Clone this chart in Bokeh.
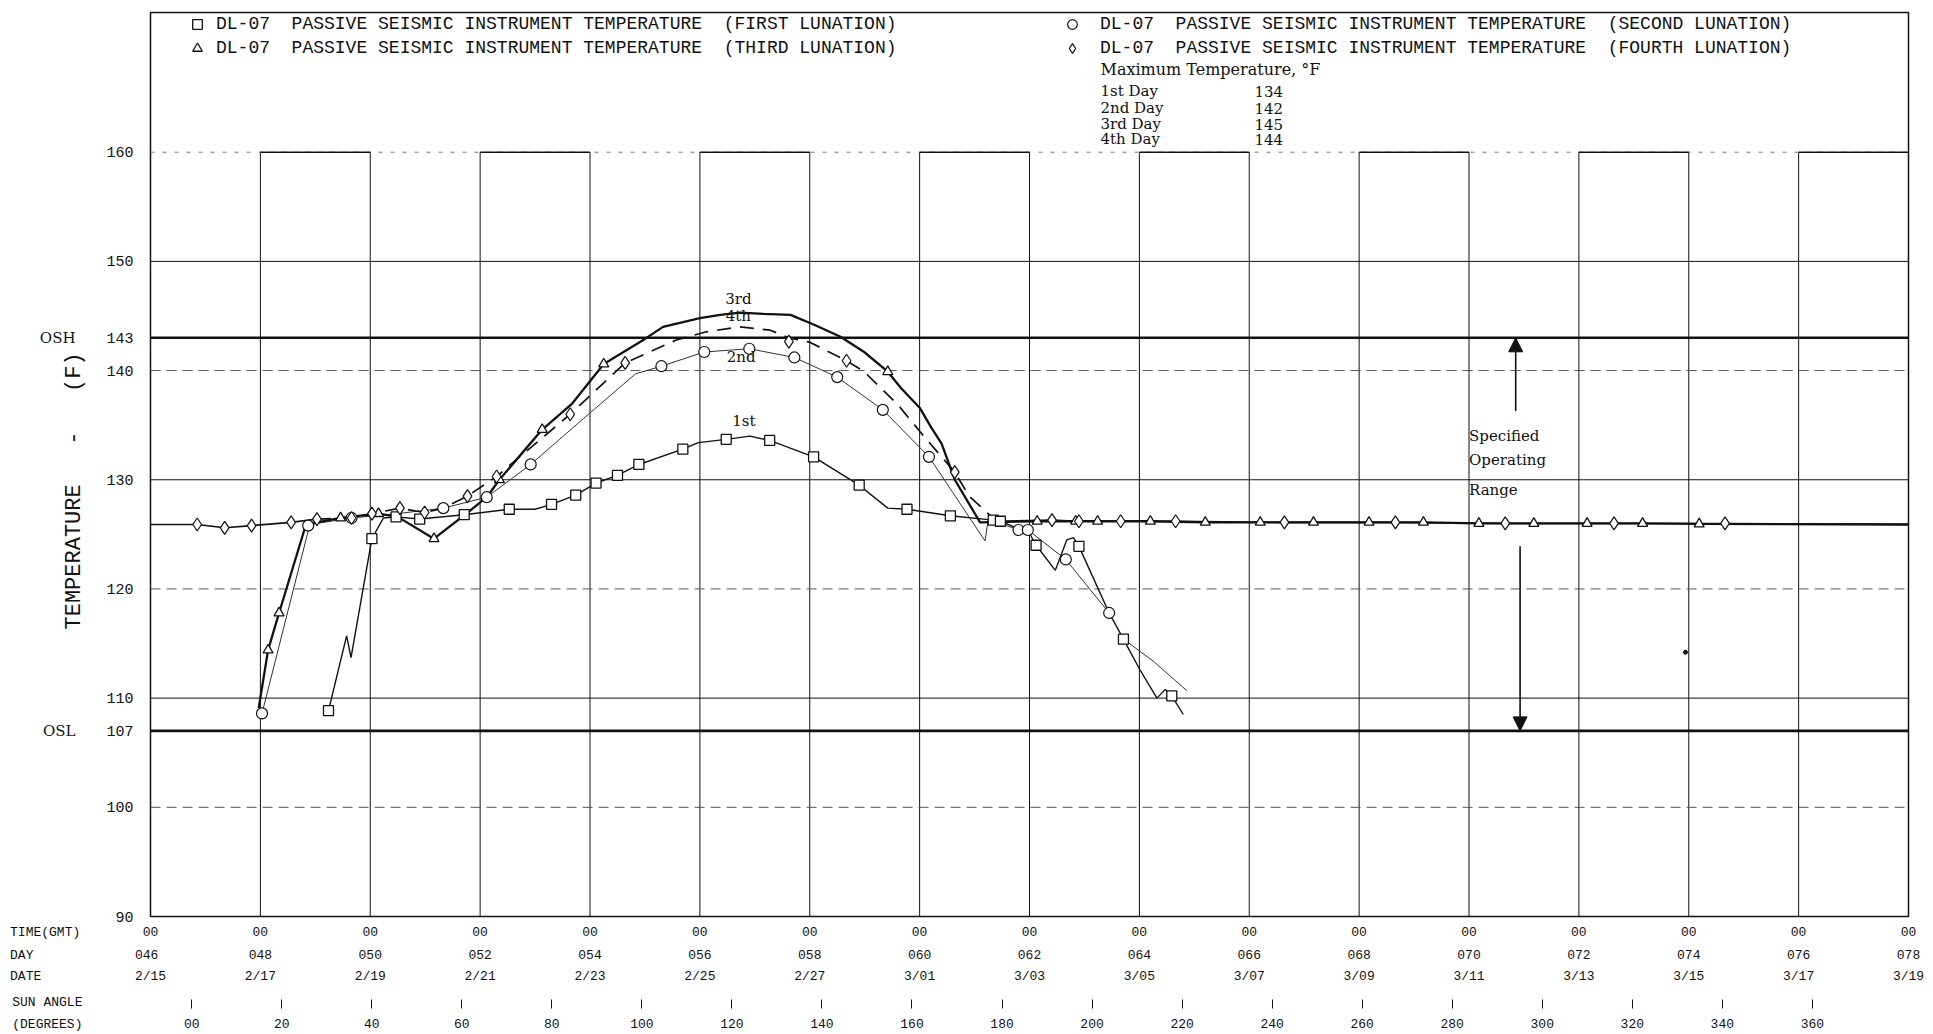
import math
from bokeh.plotting import figure
from bokeh.models import (Range1d, LinearAxis, FixedTicker, Label, Arrow, NormalHead,
                          Legend, LegendItem)
from bokeh.embed import file_html
from bokeh.resources import INLINE

# ---------------- data ----------------
day_numbers = [46, 48, 50, 52, 54, 56, 58, 60, 62, 64, 66, 68, 70, 72, 74, 76, 78]
time_labels = ["00"] * 17
day_labels = ["046", "048", "050", "052", "054", "056", "058", "060", "062",
              "064", "066", "068", "070", "072", "074", "076", "078"]
date_labels = ["2/15", "2/17", "2/19", "2/21", "2/23", "2/25", "2/27", "3/01", "3/03",
               "3/05", "3/07", "3/09", "3/11", "3/13", "3/15", "3/17", "3/19"]
sun_angles = [0, 20, 40, 60, 80, 100, 120, 140, 160, 180, 200, 220, 240, 260, 280,
              300, 320, 340, 360]
sun_angle_labels = ["00", "20", "40", "60", "80", "100", "120", "140", "160", "180",
                    "200", "220", "240", "260", "280", "300", "320", "340", "360"]
row_headers = ["TIME(GMT)", "DAY", "DATE", "SUN ANGLE", "(DEGREES)"]
sun_zero_day = 46.75     # day at which sun angle = 0
sun_full_day = 76.25     # day at which sun angle = 360

y_ticks = [90, 100, 107, 110, 120, 130, 140, 143, 150, 160]
limit_temps = [107, 143]
limit_names = ["OSL", "OSH"]
temp_grid_solid = [110, 130, 150]
temp_grid_dashed = [100, 120, 140]
temp_top = 160
osh_temp = 143
osl_temp = 107
y_title = "TEMPERATURE\u00a0\u00a0\u00a0-\u00a0\u00a0\u00a0(F)"

# First lunation (squares)
first_x = [49.24, 49.57, 49.65, 50.03, 50.24, 50.47, 50.90, 51.71, 52.53, 53.00, 53.30,
           53.74, 54.11, 54.50, 54.89, 55.69, 55.97, 56.48, 56.91, 57.27, 58.07, 58.90,
           59.42, 59.77, 60.56, 61.34, 61.47, 62.00, 62.12, 62.47, 62.68, 62.80, 62.90,
           63.45, 63.71, 64.01, 64.32, 64.47, 64.59, 64.80]
first_y = [108.85, 115.7, 113.7, 124.6, 126.5, 126.6, 126.4, 126.8, 127.3, 127.3, 127.75,
           128.6, 129.7, 130.4, 131.4, 132.8, 133.4, 133.7, 134.0, 133.6, 132.1, 129.5,
           127.4, 127.3, 126.7, 126.3, 126.2, 125.1, 124.0, 121.7, 124.5, 124.7, 123.9,
           117.8, 115.4, 112.6, 110.0, 110.8, 110.2, 108.5]
first_mx = [49.24, 50.03, 50.47, 50.90, 51.71, 52.53, 53.30, 53.74, 54.11, 54.50, 54.89,
            55.69, 56.48, 57.27, 58.07, 58.90, 59.77, 60.56, 61.34, 61.47, 62.12, 62.90,
            63.71, 64.59]
first_my = [108.85, 124.6, 126.6, 126.4, 126.8, 127.3, 127.75, 128.6, 129.7, 130.4, 131.4,
            132.8, 133.7, 133.6, 132.1, 129.5, 127.3, 126.7, 126.3, 126.2, 124.0, 123.9,
            115.4, 110.2]

# Second lunation (circles)
second_x = [48.03, 48.90, 49.66, 50.50, 51.33, 52.12, 52.92, 53.88, 54.83, 55.30, 56.08,
            56.90, 57.72, 58.50, 59.33, 60.17, 61.19, 61.25, 61.80, 61.97, 62.66, 63.45,
            63.71, 64.25, 64.86]
second_y = [108.6, 125.9, 126.5, 126.9, 127.4, 128.4, 131.4, 135.6, 139.7, 140.4, 141.7,
            142.0, 141.2, 139.4, 136.4, 132.1, 124.4, 126.4, 125.4, 125.4, 122.7, 117.8,
            115.4, 113.4, 110.7]
second_mx = [48.03, 48.87, 49.66, 51.33, 52.12, 52.92, 55.30, 56.08, 56.90, 57.72, 58.50,
             59.33, 60.17, 61.80, 61.97, 62.66, 63.45]
second_my = [108.6, 125.8, 126.5, 127.4, 128.4, 131.4, 140.4, 141.7, 142.0, 141.2, 139.4,
             136.4, 132.1, 125.4, 125.4, 122.7, 117.8]

# Third lunation (triangles)
third_x = [47.97, 48.14, 48.34, 48.83, 49.46, 50.15, 50.50, 51.16, 51.75, 52.12, 52.35,
           53.13, 53.68, 54.25, 55.00, 55.33, 56.00, 56.37, 56.73, 57.16, 57.65, 58.08,
           58.56, 58.99, 59.42, 59.66, 60.00, 60.21, 60.40, 60.64, 61.10, 62.14, 62.84,
           63.24, 64.20, 65.20, 66.20, 67.17, 68.18, 69.17, 70.18, 71.18, 72.15, 73.16,
           74.19, 78.00]
third_y = [109.1, 114.4, 117.8, 125.9, 126.5, 126.9, 126.6, 124.6, 126.9, 128.4, 130.0,
           134.6, 137.0, 140.6, 142.9, 144.0, 144.8, 145.1, 145.3, 145.2, 145.1, 144.2,
           143.1, 141.7, 139.9, 138.4, 136.6, 134.8, 133.3, 130.0, 126.1, 126.2, 126.2,
           126.2, 126.2, 126.1, 126.1, 126.1, 126.1, 126.1, 126.0, 126.0, 126.0, 126.0,
           125.95, 125.9]
third_mx = [48.14, 48.34, 49.46, 50.15, 51.16, 52.35, 53.13, 54.25, 59.42, 62.14, 62.84,
            63.24, 64.20, 65.20, 66.20, 67.17, 68.18, 69.17, 70.18, 71.18, 72.15, 73.16,
            74.19]
third_my = [114.4, 117.8, 126.5, 126.9, 124.6, 130.0, 134.6, 140.6, 139.9, 126.2, 126.2,
            126.2, 126.2, 126.1, 126.1, 126.1, 126.1, 126.1, 126.0, 126.0, 126.0, 126.0,
            125.95]

# Fourth lunation (diamonds)
fourth_x = [46.00, 46.85, 47.35, 47.84, 48.56, 49.03, 49.66, 50.03, 50.54, 50.99, 51.33,
            51.77, 52.30, 53.64, 54.64, 55.57, 56.12, 56.73, 57.28, 57.62, 58.00, 58.67,
            58.99, 59.60, 60.09, 60.64, 60.90, 61.40, 62.41, 62.90, 63.66, 64.66, 66.64,
            68.66, 70.66, 72.64, 74.66, 78.00]
fourth_y = [125.9, 125.9, 125.6, 125.8, 126.1, 126.4, 126.5, 126.9, 127.4, 127.0, 127.4,
            128.5, 130.3, 136.0, 140.7, 142.8, 143.55, 144.0, 143.7, 143.0, 142.6, 140.9,
            139.9, 136.9, 133.9, 130.7, 128.5, 126.2, 126.3, 126.2, 126.2, 126.2, 126.1,
            126.1, 126.0, 126.0, 126.0, 125.9]
fourth_mx = [46.85, 47.35, 47.84, 48.56, 49.03, 49.66, 50.03, 50.54, 50.99, 51.77, 52.30,
             53.64, 54.64, 57.62, 58.67, 60.64, 62.41, 62.90, 63.66, 64.66, 66.64, 68.66,
             70.66, 72.64, 74.66]
fourth_my = [125.9, 125.6, 125.8, 126.1, 126.4, 126.5, 126.9, 127.4, 127.0, 128.5, 130.3,
             136.0, 140.7, 142.65, 140.9, 130.7, 126.3, 126.2, 126.2, 126.2, 126.1, 126.1,
             126.0, 126.0, 126.0]
fourth_dash_from = 49.03
fourth_dash_to = 61.40

stray_x = [73.94]
stray_y = [114.2]

max_day_names = ["1st Day", "2nd Day", "3rd Day", "4th Day"]
max_day_temps = [134, 142, 145, 144]

legend_texts = [
    "DL-07\u00a0\u00a0PASSIVE SEISMIC INSTRUMENT TEMPERATURE\u00a0\u00a0(FIRST LUNATION)",
    "DL-07\u00a0\u00a0PASSIVE SEISMIC INSTRUMENT TEMPERATURE\u00a0\u00a0(SECOND LUNATION)",
    "DL-07\u00a0\u00a0PASSIVE SEISMIC INSTRUMENT TEMPERATURE\u00a0\u00a0(THIRD LUNATION)",
    "DL-07\u00a0\u00a0PASSIVE SEISMIC INSTRUMENT TEMPERATURE\u00a0\u00a0(FOURTH LUNATION)",
]

# ---------------- layout geometry ----------------
W, H = 1933, 1034
FX0, FX1 = 150, 1908          # frame left/right (px)
FY_TOP, FY_BOT = 12, 918      # frame top/bottom (px)
Y160_PX = 152
X_START, X_END = day_numbers[0], day_numbers[-1]
Y_BOT = y_ticks[0]
PX_PER_DEG = (FY_BOT - Y160_PX) / (temp_top - Y_BOT)
Y_TOP = temp_top + (Y160_PX - FY_TOP) / PX_PER_DEG
TICK_FONT_PX = 13
CHAR_W = 0.6 * TICK_FONT_PX   # advance of the monospace tick font


def dx(px):
    return X_START + (px - FX0) * (X_END - X_START) / (FX1 - FX0)


def dy(py):
    return Y_BOT + (FY_BOT - py) / PX_PER_DEG


NB = "\u00a0"


def with_header(header, label, tick_px, left_px=12):
    """Tick label that also carries the row header, which starts at left_px."""
    half = int(round((tick_px - left_px) / CHAR_W))
    pre = half - len(label) / 2.0
    gap = int(round(pre)) - len(header)
    post = 2 * half - len(header) - max(gap, 1) - len(label)
    return header + NB * max(gap, 1) + label + NB * max(post, 0)


INK = "#111111"
MONO = "Liberation Mono"
SERIF = "DejaVu Serif"

p = figure(width=W, height=H, x_range=Range1d(X_START, X_END), y_range=Range1d(Y_BOT, Y_TOP),
           output_backend="svg", toolbar_location=None, title=None,
           x_axis_location=None, y_axis_location=None,
           min_border_left=FX0, min_border_right=W - FX1,
           min_border_top=FY_TOP, min_border_bottom=H - FY_BOT)
p.grid.visible = False
p.outline_line_color = INK
p.outline_line_width = 1.5
p.background_fill_color = "white"
p.border_fill_color = "white"

# ---------------- y axes ----------------
yax = LinearAxis(ticker=FixedTicker(ticks=y_ticks))
yax.axis_line_color = None
yax.major_tick_out = 0
yax.major_tick_in = 0
yax.minor_tick_line_color = None
yax.major_label_standoff = 17
yax.major_label_text_font = MONO
yax.major_label_text_font_size = "15px"
yax.major_label_text_color = INK
yax.axis_label = y_title + NB * 4
yax.axis_label_text_font = MONO
yax.axis_label_text_font_size = "22px"
yax.axis_label_text_font_style = "normal"
yax.axis_label_text_color = INK
yax.axis_label_standoff = 16
p.add_layout(yax, "left")

lax = LinearAxis(ticker=FixedTicker(ticks=limit_temps))
lax.major_label_overrides = dict(zip(limit_temps, limit_names))
lax.axis_line_color = None
lax.major_tick_out = 0
lax.major_tick_in = 0
lax.minor_tick_line_color = None
lax.major_label_standoff = -16
lax.major_label_text_font = SERIF
lax.major_label_text_font_size = "15px"
lax.major_label_text_color = INK
p.add_layout(lax, "left")

# ---------------- bottom axes ----------------
p.extra_x_ranges = {"sun": Range1d(
    (X_START - sun_zero_day) * 360.0 / (sun_full_day - sun_zero_day),
    (X_END - sun_zero_day) * 360.0 / (sun_full_day - sun_zero_day))}


def bottom_axis(ticks, labels, standoff, range_name="default"):
    ax = LinearAxis(ticker=FixedTicker(ticks=ticks), x_range_name=range_name)
    ax.major_label_overrides = dict(zip(ticks, labels))
    ax.axis_line_color = None
    ax.major_tick_out = 0
    ax.major_tick_in = 0
    ax.major_tick_line_color = None
    ax.minor_tick_line_color = None
    ax.major_label_standoff = standoff
    ax.major_label_text_font = MONO
    ax.major_label_text_font_size = "%dpx" % TICK_FONT_PX
    ax.major_label_text_color = INK
    return ax


first_px = FX0
sun0_px = FX0 + (sun_zero_day - X_START) * (FX1 - FX0) / (X_END - X_START)

ax_time = bottom_axis(day_numbers, [with_header(row_headers[0], time_labels[0], first_px)]
                      + time_labels[1:], 8)
ax_day = bottom_axis(day_numbers, [with_header(row_headers[1], day_labels[0], first_px)]
                     + day_labels[1:], 5)
ax_date = bottom_axis(day_numbers, [with_header(row_headers[2], date_labels[0], first_px)]
                      + date_labels[1:], 3)
# sun-angle tick marks row (with its header)
ax_sunhdr = bottom_axis(sun_angles, [with_header(row_headers[3], "", sun0_px)]
                        + [""] * (len(sun_angles) - 1), -14, range_name="sun")
ax_sunhdr.major_tick_in = -13
ax_sunhdr.major_tick_out = 22
ax_sunhdr.major_tick_line_color = INK
ax_sunhdr.major_tick_line_width = 1
ax_sun = bottom_axis(sun_angles, [with_header(row_headers[4], sun_angle_labels[0], sun0_px)]
                     + sun_angle_labels[1:], 4, range_name="sun")
for ax in (ax_time, ax_day, ax_date, ax_sunhdr, ax_sun):
    p.add_layout(ax, "below")

# ---------------- grid ----------------
inner_days = day_numbers[1:-1]
p.segment(x0=inner_days, y0=[Y_BOT] * len(inner_days), x1=inner_days,
          y1=[temp_top] * len(inner_days), line_color=INK, line_width=1)
p.segment(x0=[X_START] * 3, y0=temp_grid_solid, x1=[X_END] * 3, y1=temp_grid_solid,
          line_color=INK, line_width=1)
p.segment(x0=[X_START] * 3, y0=temp_grid_dashed, x1=[X_END] * 3, y1=temp_grid_dashed,
          line_color="#555555", line_width=1, line_dash="10 6")
p.segment(x0=[X_START], y0=[temp_top], x1=[X_END], y1=[temp_top],
          line_color="#777777", line_width=1, line_dash="4 8")
box_starts = day_numbers[1::2]
box_ends = [d + 2 for d in box_starts]
p.segment(x0=box_starts, y0=[temp_top] * len(box_starts), x1=box_ends,
          y1=[temp_top] * len(box_starts), line_color=INK, line_width=1.5)
p.segment(x0=[X_START] * 2, y0=[osh_temp, osl_temp], x1=[X_END] * 2, y1=[osh_temp, osl_temp],
          line_color=INK, line_width=2.6)

# ---------------- series ----------------
p.line(first_x, first_y, line_color=INK, line_width=1.4)
p.line(second_x, second_y, line_color="#333333", line_width=1.0)
p.line(third_x, third_y, line_color=INK, line_width=2.3)
ia = fourth_x.index(fourth_dash_from)
ib = fourth_x.index(fourth_dash_to)
p.line(fourth_x[:ia + 1], fourth_y[:ia + 1], line_color=INK, line_width=1.6)
p.line(fourth_x[ia:ib + 1], fourth_y[ia:ib + 1], line_color=INK, line_width=1.7,
       line_dash="14 9")
p.line(fourth_x[ib:], fourth_y[ib:], line_color=INK, line_width=1.6)

r1 = p.scatter(first_mx, first_my, marker="square", size=10, line_color=INK,
               fill_color="white", line_width=1.3)
r2 = p.scatter(second_mx, second_my, marker="circle", size=11, line_color=INK,
               fill_color="white", line_width=1.2)
r3 = p.scatter(third_mx, third_my, marker="triangle", size=10, line_color=INK,
               fill_color="white", line_width=1.3)
r4 = p.scatter(fourth_mx, fourth_my, marker="diamond", size=13, line_color=INK,
               fill_color="white", line_width=1.2)
p.scatter(stray_x, stray_y, marker="circle", size=4, fill_color=INK, line_color=INK)


# ---------------- legends ----------------
LEG_H = 2 * 24 - 2


def make_legend(items, vx, standoff):
    return Legend(items=items, location=(vx, FY_BOT - FY_TOP - 4 - LEG_H),
                  orientation="vertical",
                  padding=0, margin=0, spacing=-2, glyph_width=24, glyph_height=24,
                  label_height=24, label_standoff=standoff,
                  label_text_font=MONO, label_text_font_size="18px",
                  label_text_color=INK, border_line_alpha=0, background_fill_alpha=0)


p.add_layout(make_legend([LegendItem(label=legend_texts[0], renderers=[r1]),
                          LegendItem(label=legend_texts[2], renderers=[r3])], 185 - FX0, 7))
p.add_layout(make_legend([LegendItem(label=legend_texts[1], renderers=[r2]),
                          LegendItem(label=legend_texts[3], renderers=[r4])], 1060 - FX0, 16))


# ---------------- annotations ----------------
def add_label(x, y, text, font=SERIF, size="15px", align="left", baseline="middle", angle=0):
    p.add_layout(Label(x=x, y=y, text=text, text_font=font, text_font_size=size,
                       text_align=align, text_baseline=baseline, text_color=INK,
                       angle=angle))


add_label(dx(1100), dy(69), "Maximum Temperature, \u00b0F", size="16px")
for i, (nm, val) in enumerate(zip(max_day_names, max_day_temps)):
    yy = dy([91, 108, 124, 139][i])
    add_label(dx(1100), yy, nm, size="15px")
    add_label(dx(1254), yy, str(val), size="15px")

add_label(56.70, 146.6, "3rd", align="center", size="15px")
add_label(56.70, 145.0, "4th", align="center", size="15px")
add_label(56.75, 141.2, "2nd", align="center", size="15px")
add_label(56.80, 135.4, "1st", align="center", size="15px")

add_label(70.0, 134.0, "Specified", size="15px")
add_label(70.0, 131.8, "Operating", size="15px")
add_label(70.0, 129.1, "Range", size="15px")
p.add_layout(Arrow(end=NormalHead(size=14, fill_color=INK, line_color=INK),
                   x_start=70.85, y_start=136.3, x_end=70.85, y_end=osh_temp,
                   line_color=INK, line_width=1.6))
p.add_layout(Arrow(end=NormalHead(size=14, fill_color=INK, line_color=INK),
                   x_start=70.93, y_start=123.9, x_end=70.93, y_end=osl_temp,
                   line_color=INK, line_width=1.6))

open("out.html", "w").write(file_html(p, INLINE))
